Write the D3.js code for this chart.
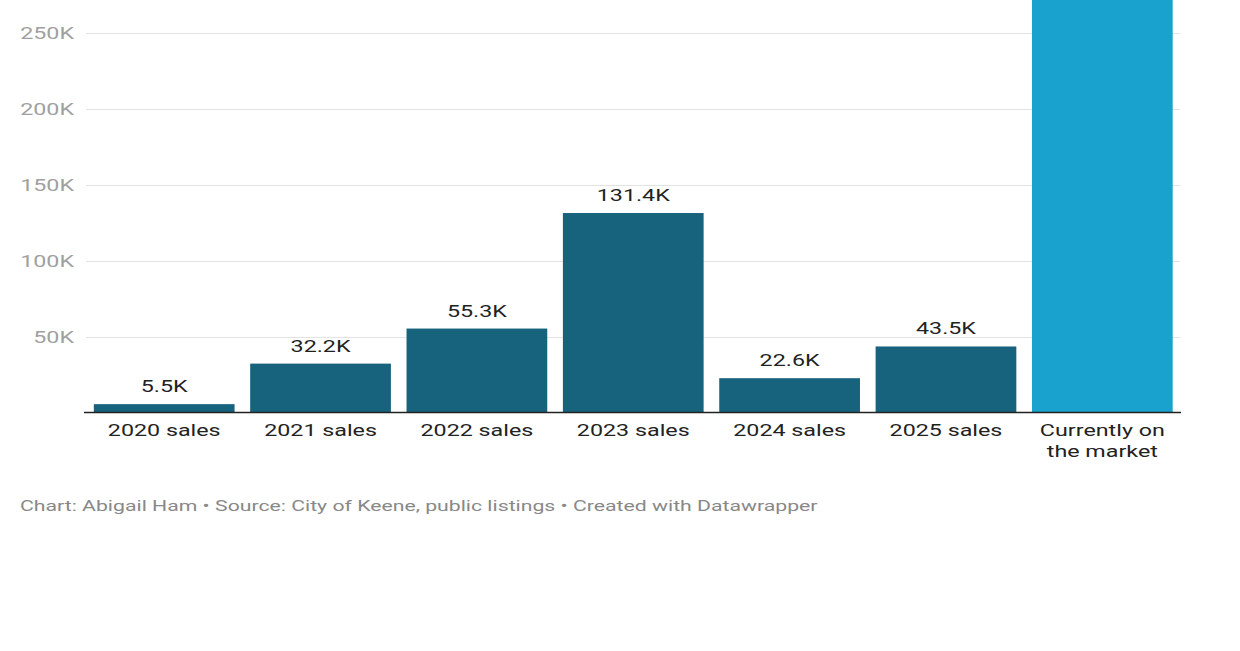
<!DOCTYPE html>
<html><head><meta charset="utf-8">
<script src="https://cdn.jsdelivr.net/npm/d3@7"></script>
<style>html,body{margin:0;padding:0;background:#fff;}svg{display:block;font-family:Roboto,sans-serif;}</style>
</head><body><svg id="c" width="1240" height="651"></svg>
<script>
const categories = ["2020 sales","2021 sales","2022 sales","2023 sales","2024 sales","2025 sales","Currently on the market"];
const values = [5500, 32200, 55300, 131400, 22600, 43500, 300000];
const valueLabels = ["5.5K","32.2K","55.3K","131.4K","22.6K","43.5K",""];
const yTicks = [50000,100000,150000,200000,250000];
const yTickLabels = ["50K","100K","150K","200K","250K"];
const footer = "Chart: Abigail Ham • Source: City of Keene, public listings • Created with Datawrapper";

const SX = 1.37;
const svg = d3.select("#c");
const x = d3.scaleBand().domain(categories).range([86,1180.5]).paddingInner(0.1).paddingOuter(0.05);
const y = d3.scaleLinear().domain([0,250000]).range([412.5,33]);

function stxt(g, tx, ty, str, anchor, size, color){
  return g.append("text").attr("transform",`translate(${tx},${ty}) scale(${SX},1)`)
    .attr("text-anchor",anchor).attr("font-size",size).attr("fill",color).text(str);
}

// gridlines
const grid = svg.append("g");
yTicks.forEach((t,i)=>{
  grid.append("line").attr("x1",86).attr("x2",1180).attr("y1",Math.round(y(t))+0.5).attr("y2",Math.round(y(t))+0.5)
    .attr("stroke","#e3e3e3").attr("stroke-width",1);
  stxt(grid,74,y(t)+6,yTickLabels[i],"end",17,"#a0a0a0");
});

// bars
const bars = svg.append("g");
categories.forEach((c,i)=>{
  const last = i===categories.length-1;
  bars.append("rect").attr("x",x(c)).attr("width",x.bandwidth())
    .attr("y",y(values[i])).attr("height",y(0)-y(values[i]))
    .attr("fill",last?"#18a2cd":"#17627c");
  if(valueLabels[i]) stxt(bars,x(c)+x.bandwidth()/2,y(values[i])-12,valueLabels[i],"middle",17,"#222");
});

// axis baseline
svg.append("line").attr("x1",84).attr("x2",1181).attr("y1",412.5).attr("y2",412.5).attr("stroke","#222").attr("stroke-width",1.5);

// x labels
const xl = svg.append("g");
categories.forEach((c,i)=>{
  const cx = x(c)+x.bandwidth()/2;
  if(c==="Currently on the market"){
    stxt(xl,cx,436,"Currently on","middle",17,"#222");
    stxt(xl,cx,457,"the market","middle",17,"#222");
  } else {
    stxt(xl,cx,436,c,"middle",17,"#222");
  }
});

// footer
stxt(svg,20,511,footer,"start",15.5,"#888");
</script></body></html>
